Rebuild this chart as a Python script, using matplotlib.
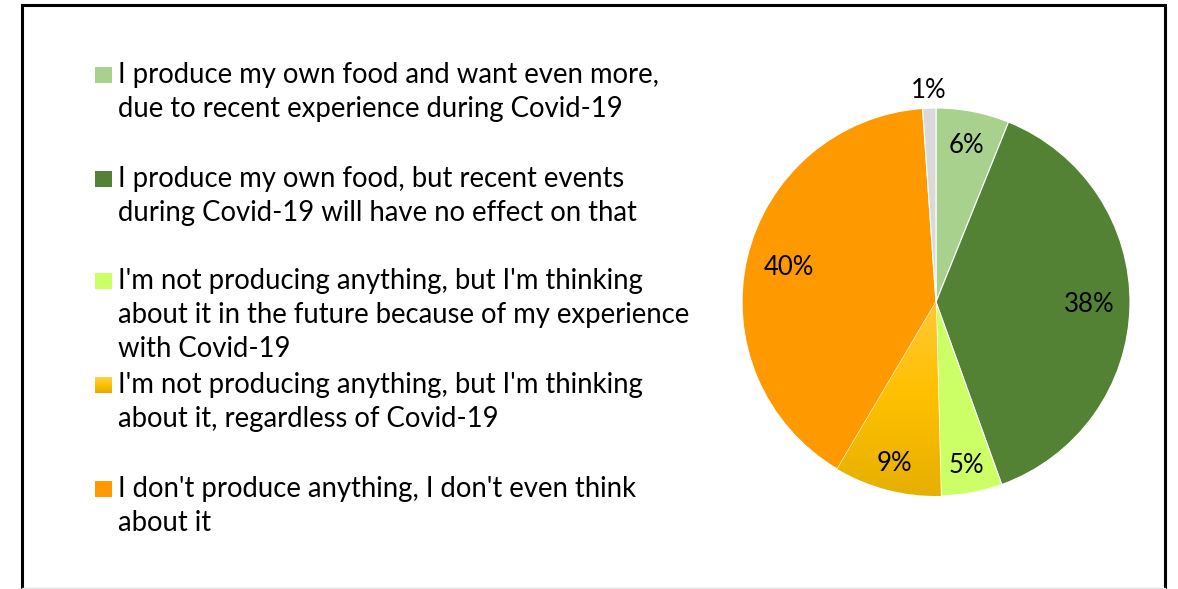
import numpy as np
import matplotlib.pyplot as plt
from matplotlib.patches import Rectangle
from matplotlib.colors import LinearSegmentedColormap

plt.rcParams['font.family'] = ['Lato', 'DejaVu Sans']

# survey answers, share of respondents (%)
categories = [
    "I produce my own food and want even more,\ndue to recent experience during Covid-19",
    "I produce my own food, but recent events\nduring Covid-19 will have no effect on that",
    "I'm not producing anything, but I'm thinking\nabout it in the future because of my experience\nwith Covid-19",
    "I'm not producing anything, but I'm thinking\nabout it, regardless of Covid-19",
    "I don't produce anything, I don't even think\nabout it",
    "Other",
]
shares = [6.1, 38.4, 5.1, 8.9, 40.4, 1.1]
colors = ['#A9D18E', '#548235', '#CCFF66', '#FFC000', '#FF9900', '#D9D9D9']

W, H = 1178, 589
fig = plt.figure(figsize=(W / 100, H / 100), dpi=100)
ax = fig.add_axes([0, 0, 1, 1])

# chart frame
ax.add_patch(Rectangle((22, -10), 1143, H - 5 + 10, fill=False, ec='black', lw=2.2))
ax.plot([22, 1165], [1, 1], color='#E0E0E0', lw=1)

# pie, clockwise from 12 o'clock
cx, cy, r = 936, 287, 194
wedges, _ = ax.pie(shares, colors=colors, startangle=90, counterclock=False,
                   center=(cx, cy), radius=r, frame=True,
                   wedgeprops=dict(linewidth=0.8, edgecolor='white'))
ax.set_xlim(0, W)
ax.set_ylim(0, H)
ax.set_aspect('equal')
ax.axis('off')

# vertical gold gradient on the 4th slice
gold = LinearSegmentedColormap.from_list('gold', ['#FFC83C', '#FFC000', '#E6B000'])
grad = np.linspace(0, 1, 256).reshape(-1, 1)
im = ax.imshow(grad, cmap=gold, extent=[cx - r, cx + r, cy - r, cy + 10],
               origin='upper', aspect='auto', zorder=wedges[3].get_zorder() + 0.1)
im.set_clip_path(wedges[3])

# percentage labels at each slice's mid-angle
label_dist = [0.82, 0.79, 0.86, 0.86, 0.78, 1.09]
cum = np.cumsum([0] + shares)
for i, s in enumerate(shares):
    mid = (cum[i] + s / 2) / 100 * 2 * np.pi
    lx = cx + label_dist[i] * r * np.sin(mid)
    ly = cy + label_dist[i] * r * np.cos(mid)
    ax.text(lx, ly, f"{s:.0f}%", ha='center', va='center', fontsize=18.5, zorder=10)

# legend (first five answers), baseline of first line in pixels from top
item_base = [83, 187, 289, 393, 497]
line_step = 34
lg = LinearSegmentedColormap.from_list('lg', ['#FFD24A', '#FFC000', '#E6AA00'])
for i, b in enumerate(item_base):
    y = H - b
    if i == 3:
        sq = Rectangle((95, y), 17, 16, fc='none', ec='none')
        ax.add_patch(sq)
        mk = ax.imshow(grad, cmap=lg, extent=[95, 112, y, y + 16], origin='upper',
                       aspect='auto', zorder=5)
        mk.set_clip_path(sq)
    else:
        ax.add_patch(Rectangle((95, y), 17, 16, fc=colors[i], ec='none'))
    for k, line in enumerate(categories[i].split('\n')):
        ax.text(118, y - k * line_step, line, ha='left', va='baseline', fontsize=19.8)

ax.set_xlim(0, W)
ax.set_ylim(0, H)
fig.savefig('out.png', dpi=100)
